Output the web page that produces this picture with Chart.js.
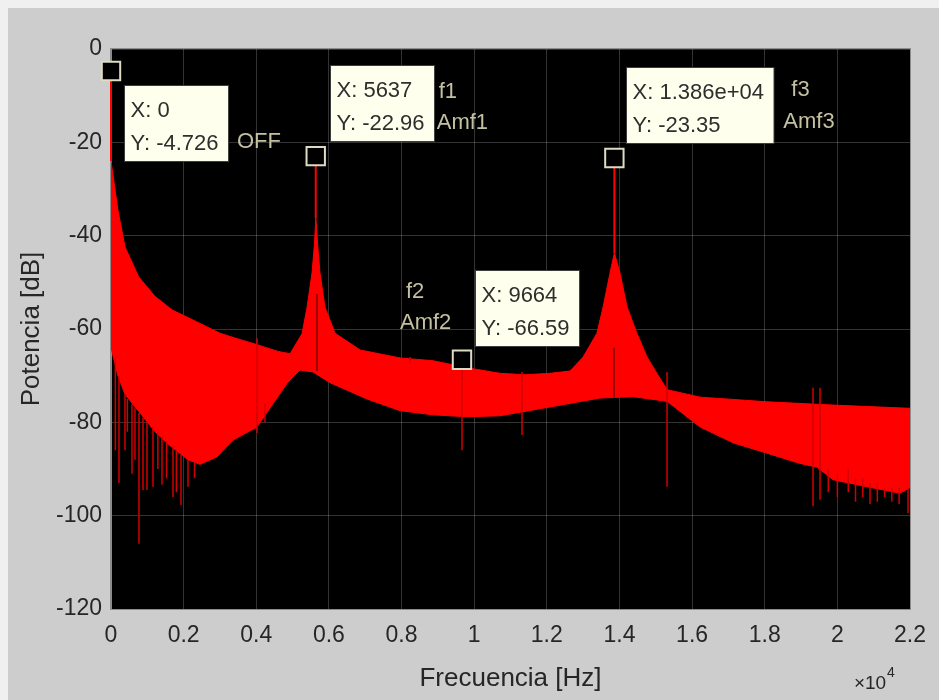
<!DOCTYPE html>
<html>
<head>
<meta charset="utf-8">
<script src="https://cdn.jsdelivr.net/npm/chart.js@4"></script>
<style>
  html, body { margin: 0; padding: 0; background: #f0f0f0; }
  canvas { display: block; }
</style>
</head>
<body>
<canvas id="graph" width="939" height="700"></canvas>
<script>
// Espectro de potencia

// envolvente superior de la banda roja
const upperHz = [0, 190, 385, 760, 1210, 1680, 2450, 3000, 3360, 4000, 4600, 4930, 5260, 5400, 5535, 5600, 5640, 5690, 5755, 5890, 6170, 6860, 7960, 8870, 9800, 10710, 11400, 12090, 12640, 13000, 13380, 13550, 13740, 13860, 14015, 14210, 14480, 14760, 15030, 15310, 16220, 18060, 19880, 22000];
const upperDb = [-24, -34.5, -42.4, -48.8, -53, -55.9, -58.8, -60.9, -61.8, -63.3, -64.8, -65.3, -61, -55.3, -48, -42, -36.2, -42, -48, -55.3, -60.9, -64.5, -66.2, -66.8, -68.3, -69.5, -69.8, -69.5, -69, -66, -60.9, -55.3, -48, -43.7, -48, -55.3, -60.9, -66, -69.5, -73, -74.6, -75.6, -76.3, -77];

// envolvente inferior
const lowerHz = [0, 190, 385, 800, 1210, 1625, 2120, 2450, 2920, 3360, 4020, 4460, 4850, 5200, 5560, 6030, 7050, 7960, 8870, 9800, 10710, 12090, 13460, 14370, 15310, 16220, 17130, 18060, 18970, 19440, 19880, 20820, 21720, 22000];
const lowerDb = [-64, -70, -74, -78, -82, -85, -88, -89, -87.4, -83.8, -81, -76, -71.6, -68.8, -69.2, -71.5, -75, -77.5, -78.4, -78.8, -78.6, -76.7, -74.8, -74.5, -75.5, -81, -84.4, -86.6, -88.8, -89.6, -92.3, -93.8, -95.2, -94];

// picos finos (lineas hasta el marcador)
const peakHz = [0, 5637, 13860];
const peakTop = [-4.726, -22.96, -23.35];
const peakBottom = [-24, -36.2, -43.7];

// lineas oscuras dentro de los picos
const innerHz = [5672, 13850];
const innerTop = [-52.5, -64];
const innerBottom = [-69, -74.6];

// espigas de ruido
const spikeHz = [120, 220, 385, 450, 578, 660, 771, 881, 991, 1156, 1290, 1404, 1530, 1707, 1800, 1927, 2120, 2300, 4020, 4240, 8233, 9665, 11317, 15310, 19330, 19523, 19750, 20000, 20300, 20500, 20700, 20900, 21100, 21300, 21500, 21700, 21945];
const spikeTop = [-66, -70, -74, -75, -76, -77, -78, -79, -80, -81, -82, -83, -84, -85, -86, -87, -88, -88.5, -62, -76, -66, -68, -69.2, -69.2, -72.6, -72.6, -90, -91, -90, -92, -92, -93, -93, -94, -94, -94, -94];
const spikeBottom = [-86, -93, -86, -82, -91, -88, -106, -94.5, -94.5, -93.8, -90, -93.4, -92, -96, -95, -97.7, -93.8, -92, -82.3, -80, -67.5, -86, -82.7, -93.8, -98, -96.6, -95, -96, -95, -97, -96, -97.5, -97, -96, -97, -97.5, -99.5];

// data tips
const tipsX = [0, 5637, 9664, 13860];
const tipsY = [-4.726, -22.96, -66.59, -23.35];

// ejes
const xTicks = [0, 2000, 4000, 6000, 8000, 10000, 12000, 14000, 16000, 18000, 20000, 22000];
const yTicks = [0, -20, -40, -60, -80, -100, -120];

const FONT = '"Liberation Sans", Arial, Helvetica, sans-serif';

function zip(xs, ys) {
  return xs.map((x, i) => ({ x: x, y: ys[i] }));
}

function segments(xs, tops, bottoms) {
  const out = [];
  xs.forEach((x, i) => {
    out.push({ x: x, y: tops[i] }, { x: x, y: bottoms[i] }, { x: x, y: null });
  });
  return out;
}

function fmt(v) {
  if (Math.abs(v) >= 10000) {
    return v.toExponential(3).replace(/e\+(\d)$/, 'e+0$1');
  }
  return String(v);
}

const figureBg = {
  id: 'figureBg',
  beforeDraw(chart) {
    const { ctx, chartArea: a } = chart;
    ctx.save();
    ctx.fillStyle = '#f0f0f0';
    ctx.fillRect(0, 0, chart.width, chart.height);
    ctx.fillStyle = '#cdcdcd';
    ctx.fillRect(8, 8, chart.width - 8, chart.height - 8);
    ctx.fillStyle = '#000';
    ctx.fillRect(a.left, a.top, a.right - a.left, a.bottom - a.top);
    ctx.restore();
  },
  beforeDatasetsDraw(chart) {
    const { ctx, chartArea: a } = chart;
    ctx.save();
    ctx.strokeStyle = '#8c8c8c';
    ctx.lineWidth = 1;
    ctx.strokeRect(a.left - 0.5, a.top - 0.5, a.right - a.left + 1, a.bottom - a.top + 1);
    ctx.restore();
  }
};

// cajas de los data tips y etiquetas
const dataTips = {
  id: 'dataTips',
  afterDatasetsDraw(chart) {
    const { ctx } = chart;
    const xs = chart.scales.x, ys = chart.scales.y;
    const boxOff = [[13, 14], [14, -91], [13, -90], [12, -91]];
    const notes = [
      [0, 'OFF', 126, 71],
      [1, 'f1', 123, -64], [1, 'Amf1', 121, -33],
      [2, 'f2', -56, -68], [2, 'Amf2', -62, -37],
      [3, 'f3', 177, -68], [3, 'Amf3', 169, -36]
    ];
    ctx.save();
    ctx.font = '22px ' + FONT;
    ctx.textBaseline = 'middle';
    tipsX.forEach((v, i) => {
      const px = xs.getPixelForValue(v);
      const py = ys.getPixelForValue(tipsY[i]);
      const l1 = 'X: ' + fmt(v);
      const l2 = 'Y: ' + fmt(tipsY[i]);
      const w = Math.max(ctx.measureText(l1).width, ctx.measureText(l2).width) + 16;
      const bx = Math.round(px + boxOff[i][0]) + 0.5;
      const by = Math.round(py + boxOff[i][1]) + 0.5;
      ctx.fillStyle = '#ffffee';
      ctx.fillRect(bx, by, w, 76);
      ctx.strokeStyle = '#3c3c3c';
      ctx.lineWidth = 1;
      ctx.strokeRect(bx, by, w, 76);
      ctx.fillStyle = '#2e2e2e';
      ctx.textAlign = 'left';
      ctx.fillText(l1, bx + 6, by + 25);
      ctx.fillText(l2, bx + 6, by + 58);
    });
    ctx.fillStyle = '#c4c0a2';
    notes.forEach(n => {
      const px = xs.getPixelForValue(tipsX[n[0]]);
      const py = ys.getPixelForValue(tipsY[n[0]]);
      ctx.fillText(n[1], px + n[2], py + n[3]);
    });
    ctx.restore();
  },
  afterDraw(chart) {
    const { ctx, chartArea: a } = chart;
    ctx.save();
    ctx.fillStyle = '#262626';
    ctx.textBaseline = 'alphabetic';
    ctx.textAlign = 'left';
    ctx.font = '19px ' + FONT;
    ctx.fillText('\u00d7', a.right - 56, a.bottom + 80);
    ctx.fillText('10', a.right - 45, a.bottom + 80);
    ctx.font = '14px ' + FONT;
    ctx.fillText('4', a.right - 23, a.bottom + 68);
    ctx.restore();
  }
};

const ctx = document.getElementById('graph').getContext('2d');

new Chart(ctx, {
  type: 'line',
  data: {
    datasets: [
      {
        label: 'marcadores',
        data: zip(tipsX, tipsY),
        showLine: false,
        pointStyle: 'rect',
        pointRadius: 13,
        pointBorderWidth: 2,
        pointBorderColor: '#dedbc3',
        pointBackgroundColor: '#000',
        clip: false
      },
      {
        label: 'picos',
        data: segments(peakHz, peakTop, peakBottom),
        borderColor: '#ff0000',
        borderWidth: 2,
        pointRadius: 0,
        clip: false
      },
      {
        label: 'interior',
        data: segments(innerHz, innerTop, innerBottom),
        borderColor: '#9a0000',
        borderWidth: 2,
        pointRadius: 0
      },
      {
        label: 'espigas',
        data: segments(spikeHz, spikeTop, spikeBottom),
        borderColor: '#d20000',
        borderWidth: 1.5,
        pointRadius: 0
      },
      {
        label: 'superior',
        data: zip(upperHz, upperDb),
        borderColor: '#ff0000',
        backgroundColor: '#ff0000',
        borderWidth: 1,
        pointRadius: 0,
        fill: '+1'
      },
      {
        label: 'inferior',
        data: zip(lowerHz, lowerDb),
        borderColor: '#ff0000',
        borderWidth: 1,
        pointRadius: 0,
        fill: false
      }
    ]
  },
  options: {
    responsive: false,
    animation: false,
    devicePixelRatio: 1,
    layout: { padding: { top: 49, right: 29, left: 0, bottom: 0 } },
    plugins: {
      legend: { display: false },
      tooltip: { enabled: false }
    },
    scales: {
      x: {
        type: 'linear',
        min: 0,
        max: 22000,
        afterFit(s) { s.height = 91; },
        afterBuildTicks(s) { s.ticks = xTicks.map(v => ({ value: v })); },
        grid: { color: 'rgba(255,255,255,0.2)', drawTicks: false },
        border: { color: '#8c8c8c' },
        ticks: {
          autoSkip: false,
          maxRotation: 0,
          padding: 13,
          color: '#262626',
          font: { family: FONT, size: 23 },
          callback: v => String(+(v / 10000).toFixed(1))
        },
        title: {
          display: true,
          text: 'Frecuencia [Hz]',
          color: '#262626',
          font: { family: FONT, size: 26 },
          padding: { top: 0, bottom: 6 }
        }
      },
      y: {
        min: -120,
        max: 0,
        afterFit(s) { s.width = 111; },
        afterBuildTicks(s) { s.ticks = yTicks.map(v => ({ value: v })); },
        grid: { color: 'rgba(255,255,255,0.2)', drawTicks: false },
        border: { color: '#8c8c8c' },
        ticks: {
          padding: 9,
          color: '#262626',
          font: { family: FONT, size: 23 }
        },
        title: {
          display: true,
          text: 'Potencia [dB]',
          color: '#262626',
          font: { family: FONT, size: 26 },
          padding: { top: 16, bottom: 0 }
        }
      }
    }
  },
  plugins: [figureBg, dataTips]
});
</script>
</body>
</html>
